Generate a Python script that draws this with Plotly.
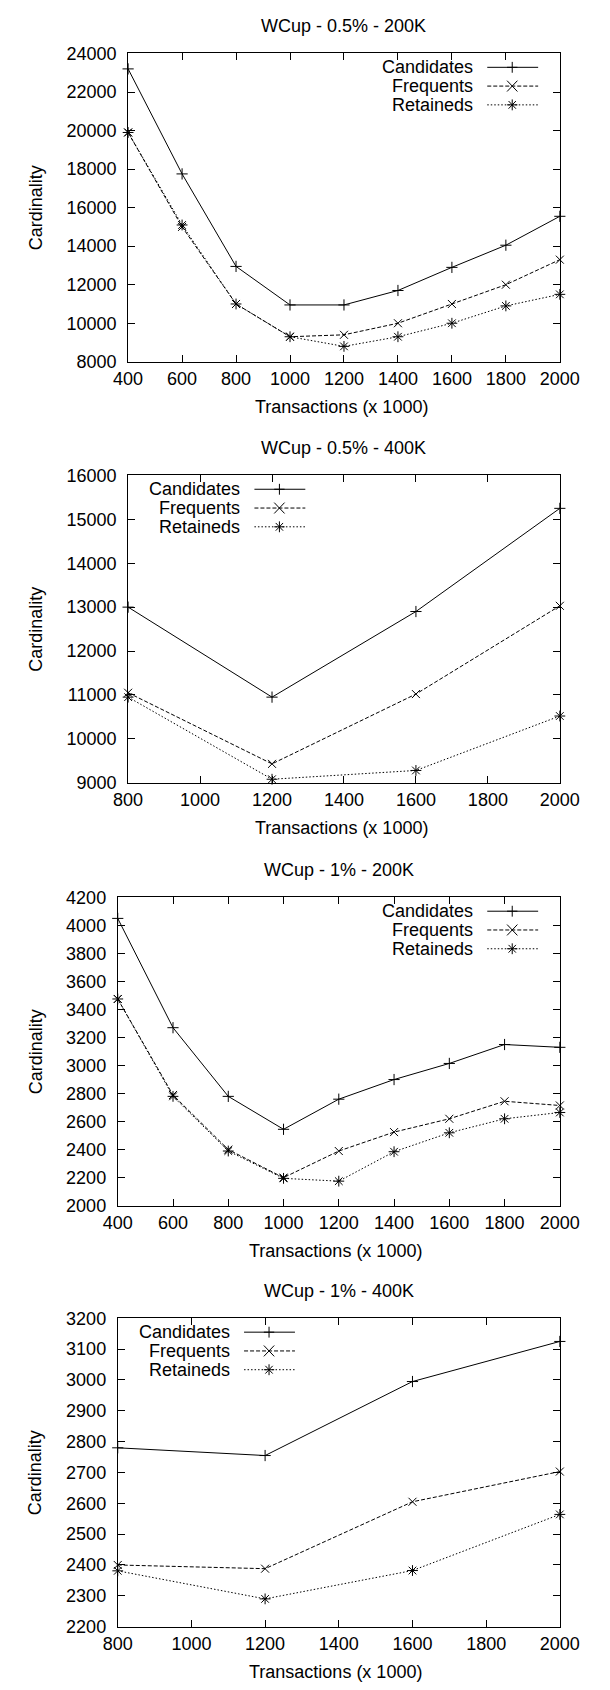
import plotly.graph_objects as go

W, H = 610, 1690
FONT = "Liberation Sans, Arial, Helvetica, sans-serif"
FS = 18

# ---------------- data ----------------
x_full = [400, 600, 800, 1000, 1200, 1400, 1600, 1800, 2000]
x_part = [800, 1200, 1600, 2000]

# WCup - 0.5% - 200K
cand_05_200 = [23200, 17750, 12950, 10950, 10950, 11700, 12900, 14050, 15550]
freq_05_200 = [19900, 15000, 11000, 9300, 9400, 10000, 11000, 12000, 13300]
ret_05_200 = [19900, 15100, 11000, 9300, 8800, 9300, 10000, 10900, 11500]

# WCup - 0.5% - 400K
cand_05_400 = [13000, 10950, 12900, 15250]
freq_05_400 = [11050, 9430, 11020, 13030]
ret_05_400 = [10950, 9080, 9280, 10520]

# WCup - 1% - 200K
cand_1_200 = [4050, 3270, 2780, 2545, 2760, 2900, 3015, 3150, 3130]
freq_1_200 = [3475, 2790, 2400, 2200, 2390, 2525, 2620, 2745, 2715]
ret_1_200 = [3475, 2780, 2390, 2195, 2175, 2385, 2520, 2620, 2665]

# WCup - 1% - 400K
cand_1_400 = [2780, 2755, 2995, 3125]
freq_1_400 = [2400, 2388, 2605, 2703]
ret_1_400 = [2381, 2290, 2382, 2564]

series_names = ["Candidates", "Frequents", "Retaineds"]
titles = ["WCup - 0.5% - 200K", "WCup - 0.5% - 400K", "WCup - 1% - 200K", "WCup - 1% - 400K"]
x_title = "Transactions (x 1000)"
y_title = "Cardinality"

panel_data = [
    (x_full, [cand_05_200, freq_05_200, ret_05_200]),
    (x_part, [cand_05_400, freq_05_400, ret_05_400]),
    (x_full, [cand_1_200, freq_1_200, ret_1_200]),
    (x_part, [cand_1_400, freq_1_400, ret_1_400]),
]
x_ranges = [[400, 2000], [800, 2000], [400, 2000], [800, 2000]]
y_ranges = [[8000, 24000], [9000, 16000], [2000, 4200], [2200, 3200]]
y_dticks = [2000, 1000, 200, 100]

# ---------------- layout geometry (pixels) ----------------
boxes = [  # left, right, top, bottom
    (120, 578, 44, 356),
    (120, 578, 471, 782),
    (109, 578, 898, 1210),
    (109, 578, 1324, 1636),
]
legend_side = ["right", "left", "right", "left"]

styles = [
    dict(dash="solid", symbol="cross-thin-open", size=8),
    dict(dash="4px,2px", symbol="x-thin-open", size=8),
    dict(dash="1.5px,2px", symbol="asterisk-open", size=9),
]


def px(x):
    return x / W


def py(y):
    return 1 - y / H


fig = go.Figure()
annotations = []
shapes = []

for i in range(4):
    l, r, t, b = boxes[i]
    xs, ys_list = panel_data[i]
    xa = "x" if i == 0 else f"x{i+1}"
    ya = "y" if i == 0 else f"y{i+1}"
    for k, ys in enumerate(ys_list):
        st = styles[k]
        fig.add_trace(go.Scatter(
            x=xs, y=ys, xaxis=xa, yaxis=ya, mode="lines+markers",
            name=series_names[k], showlegend=False, cliponaxis=False,
            line=dict(color="black", width=1, dash=st["dash"]),
            marker=dict(symbol=st["symbol"], size=st["size"], color="black",
                        line=dict(color="black", width=1)),
        ))
    axk = "xaxis" if i == 0 else f"xaxis{i+1}"
    ayk = "yaxis" if i == 0 else f"yaxis{i+1}"
    common = dict(showline=True, linecolor="black", linewidth=1, mirror="ticks",
                  ticks="inside", ticklen=7, tickcolor="black", tickwidth=1,
                  showgrid=False, zeroline=False, fixedrange=True,
                  tickfont=dict(family=FONT, size=FS, color="black"),
                  tickformat="d")
    fig.layout[axk] = dict(domain=[px(l), px(r)], range=x_ranges[i], anchor=ya,
                           tick0=x_ranges[i][0], dtick=200, ticklabelstandoff=1,
                           **common)
    fig.layout[ayk] = dict(domain=[py(b), py(t)], range=y_ranges[i], anchor=xa,
                           tick0=y_ranges[i][0], dtick=y_dticks[i], ticklabelstandoff=7,
                           **common)
    cx = (l + r) / 2
    annotations.append(dict(text=titles[i], x=px(cx), y=py(t - 28), xref="paper", yref="paper",
                            xanchor="center", yanchor="middle", showarrow=False,
                            font=dict(family=FONT, size=FS, color="black")))
    annotations.append(dict(text=x_title, x=px(cx - 3), y=py(b + 46), xref="paper", yref="paper",
                            xanchor="center", yanchor="middle", showarrow=False,
                            font=dict(family=FONT, size=FS, color="black")))
    annotations.append(dict(text=y_title, x=px(22), y=py((t + b) / 2), xref="paper", yref="paper",
                            xanchor="center", yanchor="middle", showarrow=False, textangle=-90,
                            font=dict(family=FONT, size=FS, color="black")))

    # legend (gnuplot style: right-aligned text, sample line + point to the right)
    if legend_side[i] == "right":
        text_r = r - 90
    else:
        text_r = l + 121
    line0, line1, mk = text_r + 13, text_r + 67, text_r + 39.5
    for k, name in enumerate(series_names):
        yy = t + 14 + 19 * k
        annotations.append(dict(text=name, x=px(text_r), y=py(yy), xref="paper", yref="paper",
                                xanchor="right", yanchor="middle", showarrow=False,
                                font=dict(family=FONT, size=FS, color="black")))
        shapes.append(dict(type="line", xref="paper", yref="paper",
                           x0=px(line0), x1=px(line1), y0=py(yy), y1=py(yy),
                           line=dict(color="black", width=1, dash=styles[k]["dash"])))
        rr = 5.5
        segs = []
        if k in (0, 2):
            segs += [((mk - rr, yy), (mk + rr, yy)), ((mk, yy - rr), (mk, yy + rr))]
        if k == 1:
            segs += [((mk - rr, yy - rr), (mk + rr, yy + rr)), ((mk - rr, yy + rr), (mk + rr, yy - rr))]
        if k == 2:
            q = 3.9
            segs += [((mk - q, yy - q), (mk + q, yy + q)), ((mk - q, yy + q), (mk + q, yy - q))]
        path = " ".join(f"M {px(a[0]):.5f},{py(a[1]):.5f} L {px(c[0]):.5f},{py(c[1]):.5f}" for a, c in segs)
        shapes.append(dict(type="path", xref="paper", yref="paper", path=path,
                           line=dict(color="black", width=1)))

fig.update_layout(
    width=W, height=H, margin=dict(l=0, r=0, t=0, b=0),
    paper_bgcolor="white", plot_bgcolor="white", showlegend=False,
    annotations=annotations, shapes=shapes,
    font=dict(family=FONT, size=FS, color="black"),
)

fig.write_html("out.html")
